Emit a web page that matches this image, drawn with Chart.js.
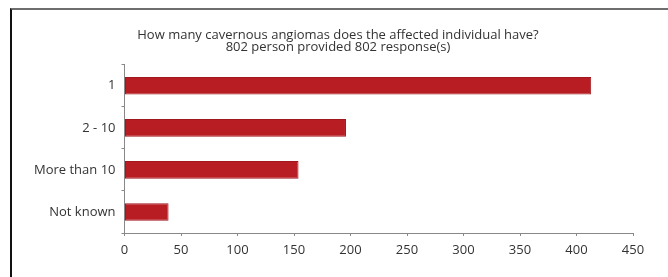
<!DOCTYPE html>
<html>
<head>
<meta charset="utf-8">
<script src="https://cdn.jsdelivr.net/npm/chart.js@4"></script>
<style>
  html, body { margin: 0; padding: 0; background: #fff; width: 668px; height: 277px; overflow: hidden; }
  #frame { position: absolute; left: 10px; top: 8px; width: 658px; height: 269px;
           border-top: 2px solid #6e6e6e; border-left: 2px solid #111; }
  #wrap { position: absolute; left: 12px; top: 10px; width: 656px; height: 267px; }
</style>
</head>
<body>
<div id="frame"></div>
<div id="wrap"><canvas id="c" width="656" height="267"></canvas></div>
<script>
const titleLines = ["How many cavernous angiomas does the affected individual have?", "802 person provided 802 response(s)"];
const categories = ["1", "2 - 10", "More than 10", "Not known"];
const responses = [413, 196, 154, 39];
const xTicks = [0, 50, 100, 150, 200, 250, 300, 350, 400, 450];

const FONT = "'Open Sans', 'Liberation Sans', sans-serif";
const TXT = '#333333';

new Chart(document.getElementById('c'), {
  type: 'bar',
  data: {
    labels: categories,
    datasets: [{
      data: responses,
      backgroundColor: '#b81d23',
      borderColor: '#a0181d',
      borderWidth: 1,
      borderSkipped: false,
      categoryPercentage: 0.42,
      barPercentage: 1.0
    }]
  },
  options: {
    indexAxis: 'y',
    responsive: false,
    animation: false,
    devicePixelRatio: 1,
    layout: { padding: { left: 0, right: 4, top: 0, bottom: 20 } },
    plugins: {
      legend: { display: false },
      tooltip: { enabled: false },
      title: {
        display: true,
        text: titleLines,
        color: TXT,
        font: { family: FONT, size: 13, weight: 'normal', lineHeight: 0.95 },
        padding: { top: 19, bottom: 11 }
      }
    },
    scales: {
      x: {
        min: 0, max: 450,
        afterBuildTicks: (s) => { s.ticks = xTicks.map(v => ({ value: v })); },
        afterFit: (s) => { s.height = 24; },
        ticks: { color: TXT, font: { family: FONT, size: 13 }, padding: 6, maxRotation: 0 },
        grid: { display: true, drawOnChartArea: false, drawTicks: true, tickLength: 3, color: '#888' },
        border: { display: true, color: '#888', width: 1 }
      },
      y: {
        afterFit: (s) => { s.width = 112.5; },
        ticks: { color: TXT, font: { family: FONT, size: 13 }, padding: 6 },
        grid: { display: true, drawOnChartArea: false, drawTicks: true, tickLength: 3, color: '#888', offset: true },
        border: { display: true, color: '#888', width: 1 }
      },
      yRightSpace: {
        type: 'category',
        position: 'right',
        display: true,
        afterFit: (s) => { s.width = 31; },
        ticks: { display: false },
        grid: { display: false, drawTicks: false },
        border: { display: false }
      }
    }
  }
});
</script>
</body>
</html>
